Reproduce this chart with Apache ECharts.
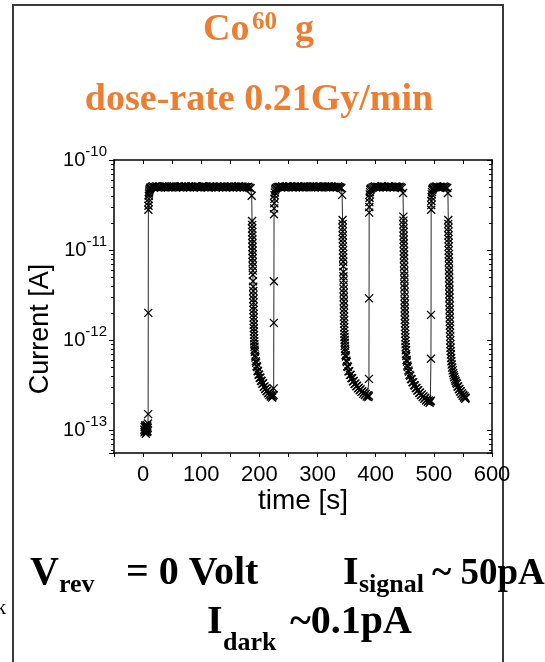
<!DOCTYPE html>
<html><head><meta charset="utf-8">
<script src="https://cdn.jsdelivr.net/npm/echarts@6/dist/echarts.min.js"></script>
<style>html,body{margin:0;padding:0;background:#fff}#c{width:545px;height:662px}</style>
</head><body><div id="c"></div>
<script>
// ---- data (time in s, current in pA) ----
const darkTime = [2.0,2.4,2.8,3.2,3.6,4.0,4.4,4.8,5.2,5.6,6.0,6.4,6.8,7.2,7.6,8.0,8.4];
const darkCurrent = [0.101,0.094,0.108,0.098,0.112,0.096,0.104,0.091,0.107,0.099,0.114,0.095,0.103,0.11,0.097,0.106,0.118];

const rise1Time = [8.7,8.9,9.1,9.3,9.5,9.7,9.9,10.2,10.5,10.9,11.4,12.0];
const rise1Current = [0.15,2.0,28,31,34,37,40,42.5,44.5,46,47.5,48.5];

const plateau1Time = [13,15,17,19,21,23,25,27,29,31,33,35,37,39,41,43,45,47,49,51,53,55,57,59,61,63,65,67,69,71,73,75,77,79,81,83,85,87,89,91,93,95,97,99,101,103,105,107,109,111,113,115,117,119,121,123,125,127,129,131,133,135,137,139,141,143,145,147,149,151,153,155,157,159,161,163,165,167,169,171,173,175,177,179,181,183,185];
const plateau1Current = [49.6,50.4,50.9,49.8,50.2,51.1,49.5,50.6,50.0,49.3,50.7,50.3,51.0,49.9,50.5,49.7,50.8,50.1,49.4,50.6,51.2,50.0,49.8,50.4,50.9,49.6,50.2,50.7,49.5,50.3,51.0,49.9,50.5,50.1,49.7,50.8,50.4,49.6,50.2,51.1,49.8,50.6,50.0,49.4,50.7,50.3,50.9,49.9,50.5,49.7,50.2,51.0,49.6,50.4,50.8,50.1,49.5,50.6,50.3,49.9,50.7,50.0,49.8,51.1,50.4,49.6,50.2,50.9,49.7,50.5,50.1,49.4,50.8,50.3,49.9,50.6,51.0,49.8,50.2,50.7,49.5,50.4,50.0,49.7,50.5,49.2,48.6];

const decay1Time = [186.8,187.4,187.5,187.6,187.7,187.8,187.9,188.0,188.1,188.2,188.3,188.4,188.5,188.6,188.7,188.8,189.1,189.4,189.5,189.6,189.7,189.8,189.9,190.0,190.1,190.2,190.3,190.4,190.5,190.6,190.8,191.0,191.2,191.4,191.6,191.8,192.2,192.7,193.2,193.8,194.5,195.2,196.0,196.8,197.7,198.6,199.6,200.6,201.7,202.8,204.0,205.2,206.4,207.6,208.8,210.0,211.2,212.4,213.6,214.8,216.0,217.2,218.4,219.6,220.8,222.0,223.2,224.3];
const decay1Current = [40,21,19,17.3,15.8,14.4,13.1,11.9,10.8,9.8,8.9,8.1,7.3,6.6,5.9,5.3,4.5,3.9,3.5,3.15,2.85,2.6,2.35,2.15,1.95,1.78,1.62,1.48,1.35,1.24,1.14,1.05,0.97,0.9,0.84,0.78,0.74,0.67,0.64,0.58,0.56,0.51,0.5,0.455,0.45,0.415,0.41,0.38,0.38,0.352,0.35,0.326,0.33,0.302,0.305,0.285,0.29,0.27,0.275,0.255,0.262,0.244,0.252,0.236,0.243,0.23,0.238,0.245];

const rise2Time = [224.6,224.8,225.0,225.2,225.4,225.6,225.9,226.2,226.6,227.1,227.7];
const rise2Current = [0.29,1.55,4.5,25,29,33,37,40.5,43.5,46,48];

const plateau2Time = [229,231,233,235,237,239,241,243,245,247,249,251,253,255,257,259,261,263,265,267,269,271,273,275,277,279,281,283,285,287,289,291,293,295,297,299,301,303,305,307,309,311,313,315,317,319,321,323,325,327,329,331,333,335,337,339,341];
const plateau2Current = [48.9,49.8,50.5,50.1,49.6,50.8,50.3,49.9,50.6,51.0,49.7,50.2,50.9,50.0,49.5,50.4,50.7,49.8,50.3,51.1,49.9,50.5,50.1,49.6,50.8,50.2,49.7,50.6,50.0,50.9,49.8,50.4,51.0,49.6,50.3,50.7,49.9,50.5,50.1,49.4,50.6,50.2,50.8,49.7,50.4,51.0,49.9,50.3,50.6,49.8,50.5,50.1,49.6,50.7,50.2,49.5,48.8];

const decay2Time = [342.3,343.0,343.1,343.2,343.3,343.4,343.5,343.6,343.7,343.8,343.9,344.0,344.1,344.3,344.5,344.6,344.7,344.8,344.9,345.0,345.1,345.2,345.3,345.4,345.5,345.6,345.7,345.8,345.9,346.0,346.2,346.4,346.6,346.8,347.0,347.3,347.7,348.2,348.8,349.5,350.3,351.2,352.2,353.3,354.5,355.8,357.1,358.4,359.7,361.0,362.4,363.8,365.2,366.6,368.0,369.5,371.0,372.5,374.0,375.5,377.0,378.5,380.0,381.5,383.0,384.5,386.0,387.4,388.2];
const decay2Current = [41,21.5,19.5,17.6,16,14.5,13.2,12,10.9,9.9,9,8.2,7.4,6.6,5.7,5.1,4.6,4.1,3.7,3.35,3.0,2.7,2.45,2.2,2.0,1.82,1.66,1.51,1.38,1.27,1.17,1.08,1.0,0.93,0.86,0.8,0.75,0.68,0.655,0.59,0.57,0.51,0.5,0.45,0.45,0.41,0.41,0.378,0.376,0.348,0.35,0.325,0.328,0.306,0.31,0.29,0.295,0.276,0.283,0.265,0.27,0.252,0.262,0.245,0.252,0.236,0.244,0.232,0.24];

const rise3Time = [388.4,388.6,388.8,389.0,389.2,389.5,389.8,390.2,390.7,391.3];
const rise3Current = [0.37,2.9,26,30,34,38,41.5,44,46.5,48];

const plateau3Time = [393,395,397,399,401,403,405,407,409,411,413,415,417,419,421,423,425,427,429,431,433,435,437,439,441,443,445];
const plateau3Current = [48.7,49.6,50.3,50.8,49.9,50.5,50.1,49.7,50.6,51.0,49.8,50.4,50.2,49.6,50.9,50.3,49.9,50.6,50.0,49.7,50.5,50.8,50.1,49.8,50.4,49.6,48.9];

const decay3Time = [447.0,447.6,447.7,447.8,447.9,448.0,448.1,448.2,448.3,448.4,448.5,448.6,448.7,448.8,448.9,449.1,449.2,449.3,449.4,449.5,449.6,449.7,449.8,449.9,450.0,450.1,450.2,450.3,450.4,450.5,450.6,450.8,451.0,451.2,451.4,451.6,451.9,452.2,452.6,453.1,453.7,454.4,455.2,456.1,457.1,458.2,459.4,460.6,461.9,463.2,464.6,466.0,467.4,468.8,470.2,471.7,473.2,474.7,476.2,477.7,479.2,480.7,482.2,483.7,485.2,486.7,488.2,489.7,491.2,492.7,494.0,494.8];
const decay3Current = [43,23.5,21.2,19.2,17.4,15.8,14.3,13,11.8,10.7,9.7,8.8,8,7.2,6.5,5.8,5.2,4.7,4.2,3.8,3.4,3.05,2.75,2.5,2.25,2.05,1.85,1.68,1.53,1.4,1.28,1.17,1.07,0.98,0.9,0.83,0.77,0.7,0.665,0.6,0.575,0.52,0.5,0.46,0.445,0.41,0.4,0.37,0.365,0.34,0.338,0.315,0.312,0.292,0.293,0.275,0.277,0.258,0.261,0.244,0.248,0.232,0.237,0.222,0.228,0.213,0.22,0.206,0.213,0.2,0.207,0.212];

const rise4Time = [495.0,495.2,495.4,495.6,495.8,496.1,496.4,496.8,497.3,497.9];
const rise4Current = [0.62,1.9,28,31.5,35,38.5,41.5,44,46.5,48];

const plateau4Time = [499,501,503,505,507,509,511,513,515,517,519,521,523];
const plateau4Current = [48.8,49.7,50.4,50.9,50.0,49.6,50.5,50.2,49.8,50.7,50.1,49.5,48.9];

const decay4Time = [524.2,524.8,524.9,525.0,525.1,525.2,525.3,525.4,525.5,525.6,525.7,525.8,525.9,526.0,526.2,526.3,526.4,526.5,526.6,526.7,526.8,526.9,527.0,527.1,527.2,527.3,527.4,527.5,527.6,527.7,527.9,528.1,528.3,528.5,528.7,529.0,529.3,529.7,530.2,530.8,531.5,532.3,533.2,534.2,535.2,536.3,537.4,538.5,539.6,540.7,541.8,542.9,544.0,545.1,546.2,547.3,548.4,549.5,550.6,551.7,552.8,553.9,554.8];
const decay4Current = [43,21.5,19.5,17.6,16,14.5,13.2,12,10.9,9.9,9,8.2,7.4,6.7,6.0,5.4,4.9,4.4,4.0,3.6,3.25,2.95,2.65,2.4,2.17,1.96,1.77,1.6,1.45,1.32,1.2,1.09,0.99,0.9,0.82,0.75,0.69,0.63,0.58,0.535,0.495,0.46,0.43,0.405,0.385,0.365,0.35,0.336,0.326,0.305,0.304,0.284,0.285,0.267,0.27,0.252,0.257,0.24,0.246,0.23,0.237,0.222,0.228];

// axis settings (x in s, y in pA; labels shown in A)
const xMin = -50, xMax = 600, xStep = 50, xLabelStep = 100;
const yMinPA = 0.0555, yMaxPA = 100;
const PA_EXP = -12;

// ---- build series ----
const segments = [
  [darkTime, darkCurrent], [rise1Time, rise1Current], [plateau1Time, plateau1Current], [decay1Time, decay1Current],
  [rise2Time, rise2Current], [plateau2Time, plateau2Current], [decay2Time, decay2Current],
  [rise3Time, rise3Current], [plateau3Time, plateau3Current], [decay3Time, decay3Current],
  [rise4Time, rise4Current], [plateau4Time, plateau4Current], [decay4Time, decay4Current]
];
const seriesData = [];
segments.forEach(function (s) {
  const n = Math.min(s[0].length, s[1].length);
  for (let i = 0; i < n; i++) seriesData.push([s[0][i], s[1][i]]);
});

const chart = echarts.init(document.getElementById('c'), null, {renderer: 'canvas'});
const axisLine = {show: true, onZero: false, lineStyle: {color: '#000', width: 1.5}};
const sans = 'Liberation Sans';
const serif = 'Liberation Serif';
const orange = '#ED7D31';

function yLabel(v) {
  const e = Math.log10(v), r = Math.round(e);
  if (Math.abs(e - r) > 1e-6) return '';
  return '{b|10}{s|' + (r + PA_EXP) + '}';
}

chart.setOption({
  animation: false,
  backgroundColor: '#fff',
  grid: {left: 114, right: 53, top: 160, bottom: 209, outerBoundsMode: 'none', containLabel: false},
  xAxis: [{
    type: 'value', min: xMin, max: xMax, interval: xStep, position: 'bottom',
    axisLine: axisLine,
    axisTick: {show: true, inside: false, length: 4, lineStyle: {color: '#000', width: 1}},
    axisLabel: {formatter: function (v) { return v % xLabelStep === 0 ? String(v) : ''; }, color: '#000', fontFamily: sans, fontSize: 22, margin: 11},
    splitLine: {show: false},
    name: 'time [s]', nameLocation: 'middle', nameGap: 34,
    nameTextStyle: {fontFamily: sans, fontSize: 28, color: '#000', verticalAlign: 'top'}
  }, {
    type: 'value', min: xMin, max: xMax, interval: xStep, position: 'top',
    axisLine: axisLine,
    axisTick: {show: true, inside: true, length: 4, lineStyle: {color: '#000', width: 1}},
    axisLabel: {show: false}, splitLine: {show: false}
  }],
  yAxis: [{
    type: 'log', logBase: 10, min: yMinPA, max: yMaxPA, position: 'left',
    axisLine: axisLine,
    axisTick: {show: true, inside: false, length: 5, lineStyle: {color: '#000', width: 1}},
    axisLabel: {formatter: yLabel, margin: 7, color: '#000', fontFamily: sans,
      rich: {b: {fontSize: 20, fontFamily: sans, color: '#000'},
             s: {fontSize: 15, fontFamily: sans, color: '#000', padding: [0, 0, 16, 0]}}},
    splitLine: {show: false}, minorTick: {show: false}
  }, {
    type: 'log', logBase: 10, min: yMinPA, max: yMaxPA, position: 'right',
    axisLine: axisLine,
    axisTick: {show: true, inside: true, length: 5, lineStyle: {color: '#000', width: 1}},
    axisLabel: {show: false}, splitLine: {show: false}
  }],
  series: [{
    type: 'line', xAxisIndex: 0, yAxisIndex: 0, data: seriesData,
    symbol: 'path://M0,0L10,10M10,0L0,10', symbolSize: 8, showSymbol: true,
    lineStyle: {color: '#2a2a2a', width: 1},
    itemStyle: {color: '#000', borderColor: '#000', borderWidth: 1.3},
    emphasis: {disabled: true}, silent: true, animation: false
  }]
});

// ---- decorations: log minor ticks (through the axis scale) and slide texts ----
const xl = chart.convertToPixel({xAxisIndex: 0}, xMin);
const xr = chart.convertToPixel({xAxisIndex: 0}, xMax);
const g = [];
for (let n = -2; n <= 1; n++) {
  for (let k = 2; k <= 9; k++) {
    const v = k * Math.pow(10, n);
    if (v < yMinPA || v > yMaxPA) continue;
    const y = Math.round(chart.convertToPixel({yAxisIndex: 0}, v)) + 0.5;
    g.push({type: 'line', silent: true, shape: {x1: xl - 3, y1: y, x2: xl, y2: y}, style: {stroke: '#000', lineWidth: 1}});
    g.push({type: 'line', silent: true, shape: {x1: xr - 3, y1: y, x2: xr, y2: y}, style: {stroke: '#000', lineWidth: 1}});
  }
}
function txt(x, y, text, font, fill, align, rot) {
  const o = {type: 'text', x: x, y: y, silent: true,
    style: {text: text, font: font, fill: fill, textAlign: align || 'left', textVerticalAlign: 'middle', verticalAlign: 'middle'}};
  if (rot) o.rotation = rot;
  return o;
}
g.push({type: 'rect', silent: true, shape: {x: 13, y: 5, width: 490, height: 700}, style: {fill: 'none', stroke: '#3a3a3a', lineWidth: 2}});
const big = 'bold 38px "' + serif + '"';
g.push(txt(203, 30, 'Co', big, orange));
g.push(txt(252, 23, '60', 'bold 25px "' + serif + '"', orange));
g.push(txt(295, 30, 'g', big, orange));
g.push(txt(259, 100, 'dose-rate 0.21Gy/min', big, orange, 'center'));
g.push(txt(41, 329, 'Current [A]', '27px "' + sans + '"', '#000', 'center', Math.PI / 2));
const bb = 'bold 40px "' + serif + '"';
const mb = 'bold 37px "' + serif + '"';
const sb = 'bold 26px "' + serif + '"';
g.push(txt(30, 574, 'V', bb, '#000'));
g.push(txt(59, 585, 'rev', sb, '#000'));
g.push(txt(126, 574, '= 0 Volt', bb, '#000'));
g.push(txt(343, 574, 'I', bb, '#000'));
g.push(txt(359, 585, 'signal', sb, '#000'));
g.push(txt(432, 574, '~ 50pA', mb, '#000'));
g.push(txt(207, 623, 'I', bb, '#000'));
g.push(txt(223, 643, 'dark', sb, '#000'));
g.push(txt(290, 623, '~0.1pA', bb, '#000'));
g.push(txt(-4, 609, 'k', '20px "' + serif + '"', '#000'));
chart.setOption({graphic: g});
</script>
</body></html>
